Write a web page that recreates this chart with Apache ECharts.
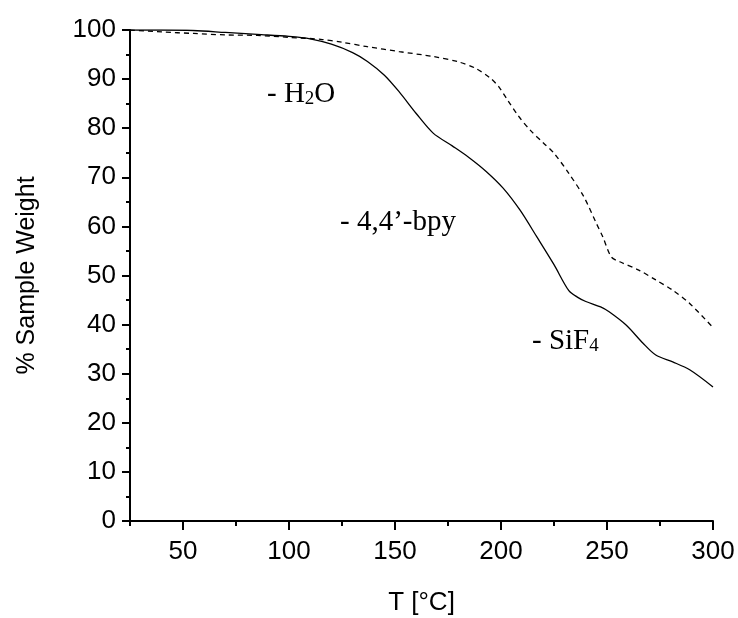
<!DOCTYPE html>
<html>
<head>
<meta charset="utf-8">
<script src="https://cdn.jsdelivr.net/npm/echarts@6/dist/echarts.min.js"></script>
<style>
html,body{margin:0;padding:0;background:#fff;}
#chart{width:738px;height:618px;}
</style>
</head>
<body>
<div id="chart"></div>
<script>
// Data
const solidT = [25, 40, 55, 70, 85, 100, 110, 120, 130, 137, 145, 152, 160, 168, 177, 185, 193, 201, 209, 217, 225, 232, 236, 240, 247, 251, 259, 267, 273, 281, 289, 300];
const solidW = [100, 100, 99.9, 99.5, 99.1, 98.7, 98.2, 97.1, 95.4, 93.6, 90.8, 87.4, 83.0, 79.0, 76.4, 74.0, 71.2, 67.8, 63.3, 57.8, 52.2, 46.9, 45.6, 44.7, 43.6, 42.6, 39.9, 36.2, 33.8, 32.4, 30.8, 27.3];
const dashedT = [25, 40, 55, 70, 85, 100, 115, 125, 137, 152, 168, 180, 188, 195, 199, 203, 208, 214, 220, 225, 232, 239, 245, 248, 252, 256, 265, 273, 281, 289, 300];
const dashedW = [100, 99.6, 99.3, 99.0, 98.9, 98.5, 98.1, 97.5, 96.6, 95.6, 94.6, 93.5, 92.2, 90.2, 88.4, 85.8, 82.6, 79.5, 77.0, 74.9, 70.8, 66.1, 60.6, 57.9, 53.8, 52.8, 51.1, 49.1, 47.0, 44.3, 39.4];
const xMajorTicks = [50, 100, 150, 200, 250, 300];
const xMinorTicks = [25, 75, 125, 175, 225, 275];
const xLabel = 'T [°C]';
const yLabel = '% Sample Weight';

const zip = (a, b) => a.map((v, i) => [v, b[i]]);

const chart = echarts.init(document.getElementById('chart'), null, {renderer: 'canvas'});
const axisFont = {fontFamily: 'Liberation Sans, Arial, sans-serif', color: '#000'};
const serif = 'Liberation Serif, Times New Roman, serif';

chart.setOption({
  animation: false,
  backgroundColor: '#fff',
  grid: {left: 130, right: 25, top: 30, bottom: 97, containLabel: false, outerBoundsMode: 'none'},
  xAxis: [{
    type: 'value', min: 25, max: 300,
    name: xLabel, nameLocation: 'middle', nameGap: 69,
    nameTextStyle: Object.assign({fontSize: 26}, axisFont),
    axisLine: {show: true, lineStyle: {color: '#000', width: 2}},
    axisTick: {show: true, inside: false, length: 9, customValues: xMajorTicks, lineStyle: {color: '#000', width: 2}},
    axisLabel: Object.assign({fontSize: 26, margin: 18, customValues: xMajorTicks}, axisFont),
    splitLine: {show: false}
  }, {
    type: 'value', min: 25, max: 300, position: 'bottom',
    axisLine: {show: false},
    axisTick: {show: true, length: 5, customValues: xMinorTicks, lineStyle: {color: '#000', width: 2}},
    axisLabel: {show: false},
    splitLine: {show: false}
  }],
  yAxis: {
    type: 'value', min: 0, max: 100, interval: 10,
    name: yLabel, nameLocation: 'middle', nameGap: 90, nameRotate: 90,
    nameTextStyle: Object.assign({fontSize: 25}, axisFont),
    axisLine: {show: true, lineStyle: {color: '#000', width: 2}},
    axisTick: {show: true, length: 8, lineStyle: {color: '#000', width: 2}},
    minorTick: {show: true, splitNumber: 2, length: 4, lineStyle: {color: '#000', width: 2}},
    axisLabel: Object.assign({fontSize: 26, margin: 14}, axisFont),
    splitLine: {show: false}
  },
  series: [{
    type: 'line', name: 'solid', data: zip(solidT, solidW),
    smooth: 0.3, showSymbol: false, symbol: 'none',
    lineStyle: {color: '#000', width: 1.3, type: 'solid'}
  }, {
    type: 'line', name: 'dashed', data: zip(dashedT, dashedW),
    smooth: 0.3, showSymbol: false, symbol: 'none',
    lineStyle: {color: '#000', width: 1.3, type: [5, 4]}
  }],
  graphic: [{
    type: 'text', left: 267, top: 80,
    style: {
      text: '{a|- H}{s|2}{a|O}',
      rich: {
        a: {fontFamily: serif, fontSize: 29, fill: '#000', color: '#000', verticalAlign: 'bottom'},
        s: {fontFamily: serif, fontSize: 19, fill: '#000', color: '#000', verticalAlign: 'bottom'}
      }
    }
  }, {
    type: 'text', left: 340, top: 208,
    style: {text: '- 4,4\u2019-bpy', fontFamily: serif, fontSize: 29, fill: '#000'}
  }, {
    type: 'text', left: 532, top: 327,
    style: {
      text: '{a|- SiF}{s|4}',
      rich: {
        a: {fontFamily: serif, fontSize: 29, fill: '#000', color: '#000', verticalAlign: 'bottom'},
        s: {fontFamily: serif, fontSize: 19, fill: '#000', color: '#000', verticalAlign: 'bottom'}
      }
    }
  }]
});
</script>
</body>
</html>
